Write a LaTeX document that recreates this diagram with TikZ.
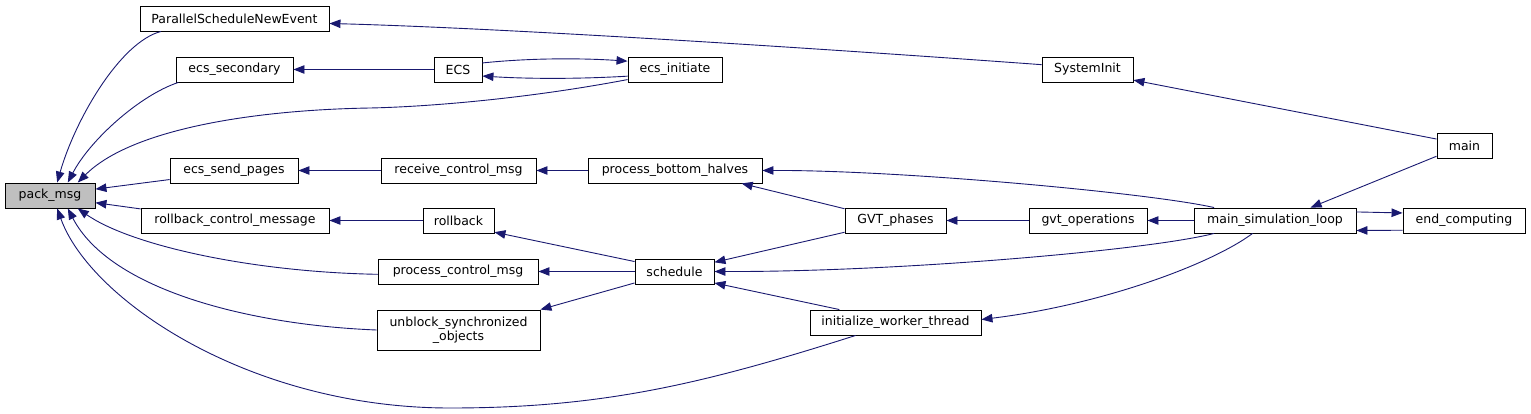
\documentclass[tikz,border=0pt]{standalone}
\usepackage{fontspec}
\setmainfont{DejaVu Sans}
\usepackage{xcolor}
\definecolor{edgeblue}{RGB}{25,25,112}
\definecolor{hilite}{RGB}{191,191,191}
\usepackage{tikz}
\usetikzlibrary{positioning,arrows.meta}

\begin{document}
\begin{tikzpicture}[x=1pt,y=-1pt,font=\fontsize{12.5}{14}\selectfont,
  fn/.style={draw=black,line width=0.9pt,fill=white,minimum height=25pt,inner sep=0pt},
  call/.style={draw=edgeblue,line width=0.9pt,-{Triangle[length=11pt,width=8.5pt]}}]
  \useasboundingbox (0,0) rectangle (1531,414);
  % Funciones, columna por columna
  \node[fn,fill=hilite,minimum width=90pt] (packmsg) at (50,195.5) {pack\_msg};
  \node[fn,minimum width=189pt] (psne) at (234.5,18.5) {ParallelScheduleNewEvent};
  \node[fn,minimum width=117pt] (ecssecondary) at (234.5,69.5) {ecs\_secondary};
  \node[fn,minimum width=128pt] (ecssendpages) at (234,170.5) {ecs\_send\_pages};
  \node[fn,minimum width=188pt] (rollbackctrl) at (235,220.5) {rollback\_control\_message};
  \node[fn,minimum width=48pt] (ecs) at (458,69.5) {ECS};
  \node[fn,minimum width=155pt] (receivectrl) at (458.5,170.5) {receive\_control\_msg};
  \node[fn,minimum width=71pt] (rollback) at (458.5,220.5) {rollback};
  \node[fn,minimum width=160pt] (processctrl) at (458,271.5) {process\_control\_msg};
  \node[fn,minimum width=163pt,minimum height=40pt,align=center] (unblock) at (458.5,330)
    {unblock\_synchronized\\\_objects};
  \node[fn,minimum width=94pt] (ecsinitiate) at (675,69.5) {ecs\_initiate};
  \node[fn,minimum width=174pt] (bottomhalves) at (675,170.5) {process\_bottom\_halves};
  \node[fn,minimum width=79pt] (schedule) at (674.5,271.5) {schedule};
  \node[fn,minimum width=101pt] (gvtphases) at (895.5,220.5) {GVT\_phases};
  \node[fn,minimum width=171pt] (initworker) at (895.5,322.5) {initialize\_worker\_thread};
  \node[fn,minimum width=91pt] (systeminit) at (1087.5,69.5) {SystemInit};
  \node[fn,minimum width=118pt] (gvtops) at (1088,220.5) {gvt\_operations};
  \node[fn,minimum width=162pt] (mainloop) at (1275,220.5) {main\_simulation\_loop};
  \node[fn,minimum width=55pt] (main) at (1464.5,145.5) {main};
  \node[fn,minimum width=122pt] (endcomputing) at (1464,220.5) {end\_computing};
  % Llamadas hacia pack_msg
  \draw[call] (psne.190) .. controls (120,42) and (75,120) .. (packmsg.61);
  \draw[call] (ecssecondary.193) .. controls (140,95) and (90,140) .. (packmsg.36);
  \draw[call] (ecsinitiate.192) .. controls (520,100) and (420,107) .. (370,108)
    .. controls (250,110) and (130,130) .. (packmsg.25);
  \draw[call] (ecssendpages.188) -- (packmsg.8);
  \draw[call] (rollbackctrl.173) -- (packmsg.-9);
  \draw[call] (processctrl.182) .. controls (250,272) and (130,245) .. (packmsg.-25);
  \draw[call] (unblock.west) .. controls (250,325) and (110,290) .. (packmsg.-36);
  \draw[call] (initworker.198) .. controls (700,385) and (600,408) .. (450,408)
    .. controls (250,408) and (90,300) .. (packmsg.-61);
  % Resto de llamadas
  \draw[call] (systeminit.174) .. controls (800,47) and (500,28) .. (psne.-3);
  \draw[call] (ecs.west) -- (ecssecondary.east);
  \draw[call] (ecs.15) .. controls (530,58) and (580,58) .. (ecsinitiate.170);
  \draw[call] (ecsinitiate.188) .. controls (580,79) and (530,79) .. (ecs.-15);
  \draw[call] (receivectrl.west) -- (ecssendpages.east);
  \draw[call] (bottomhalves.west) -- (receivectrl.east);
  \draw[call] (rollback.west) -- (rollbackctrl.east);
  \draw[call] (schedule.166) -- (rollback.-18);
  \draw[call] (schedule.west) -- (processctrl.east);
  \draw[call] (schedule.196) -- (unblock.north east);
  \draw[call] (gvtphases.167) -- (bottomhalves.-11);
  \draw[call] (gvtphases.193) -- (schedule.13);
  \draw[call] (gvtops.west) -- (gvtphases.east);
  \draw[call] (mainloop.west) -- (gvtops.east);
  \draw[call] (mainloop.168) .. controls (1150,193) and (900,170) .. (bottomhalves.east);
  \draw[call] (mainloop.192) .. controls (1150,250) and (900,272) .. (schedule.east);
  \draw[call] (mainloop.210) .. controls (1210,265) and (1100,305) .. (initworker.2);
  \draw[call] (initworker.167) -- (schedule.-16);
  \draw[call] (main.167) -- (systeminit.-13);
  \draw[call] (main.201) -- (mainloop.20);
  \draw[call] (mainloop.6) -- (endcomputing.173);
  \draw[call] (endcomputing.189) -- (mainloop.-7);
\end{tikzpicture}
\end{document}
